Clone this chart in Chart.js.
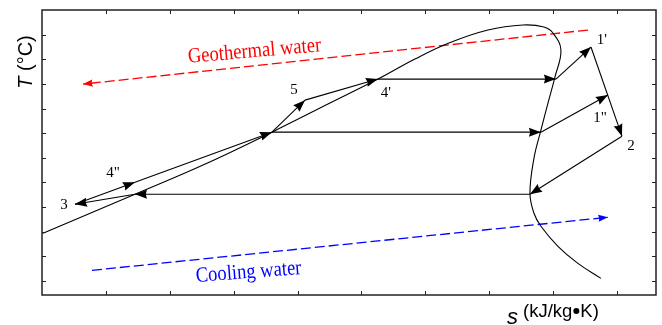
<!DOCTYPE html>
<html>
<head>
<meta charset="utf-8">
<script src="https://cdn.jsdelivr.net/npm/chart.js@4/dist/chart.umd.min.js"></script>
<style>
  html, body { margin: 0; padding: 0; background: #fff; }
  #wrap { width: 662px; height: 325px; }
</style>
</head>
<body>
<div id="wrap"><canvas id="chart" width="662" height="325"></canvas></div>
<script>
// saturation dome, s and T in plot units (no scale on the axes)
const domeS = [0.016, 1.455, 2.582, 3.599, 4.507, 5.258, 5.837, 6.369, 6.980, 7.527, 7.856, 7.997,
               8.122, 8.028, 7.919, 7.809, 7.700, 7.637, 7.700, 7.809, 8.075, 8.388, 8.748];
const domeT = [1.935, 3.520, 4.780, 6.041, 7.220, 8.195, 9.008, 9.659, 10.187, 10.390, 10.309, 10.065,
               9.374, 8.276, 7.220, 6.122, 4.984, 3.561, 2.748, 2.220, 1.407, 0.715, 0.106];

// cycle nodes (labelled states + corner points on the dome)
const nodeNames = ['3', '4"', 'j', '5', "4'", 'a', "1'", 'b', '1"', '2', 'c', 'd'];
const nodeS = [0.516, 1.455, 3.599, 4.116, 5.258, 8.044, 8.592, 7.809, 8.858, 9.077, 7.637, 1.455];
const nodeT = [3.114, 4.008, 6.041, 7.341, 8.195, 8.195, 9.496, 6.041, 7.545, 5.878, 3.520, 3.520];

// process arrows, [from, to] node indices
const cyclePath = [[0, 1], [1, 2], [2, 3], [3, 4], [4, 5], [5, 6], [6, 9],
                   [2, 7], [7, 8], [9, 10], [10, 11], [11, 0]];

// heat source / sink streams
const geoS = [8.545, 0.642];
const geoT = [10.187, 7.992];
const coolS = [0.782, 8.858];
const coolT = [0.431, 2.585];

const xTicks = [1, 2, 3, 4, 5, 6, 7, 8, 9];
const yTicks = [0, 1, 2, 3, 4, 5, 6, 7, 8, 9, 10];

// label placement around the state points (pixels)
const labelOffset = {
    '3': [-11, 1], '4"': [-22, -9], '5': [-11, -10], "4'": [8, 14],
    "1'": [11, -7], '1"': [-8, 23], '2': [9, 10]
};

function toPoints(xs, ys) {
    return xs.map((x, i) => ({ x: x, y: ys[i] }));
}

const datasets = [];
datasets.push({
    data: toPoints(domeS, domeT),
    borderColor: '#000', borderWidth: 1.1, tension: 0.4
});
cyclePath.forEach(p => {
    datasets.push({
        data: [{ x: nodeS[p[0]], y: nodeT[p[0]] }, { x: nodeS[p[1]], y: nodeT[p[1]] }],
        borderColor: '#000', borderWidth: 1.1, arrow: '#000'
    });
});
datasets.push({
    data: toPoints(geoS, geoT),
    borderColor: '#ff0000', borderWidth: 1.3, borderDash: [10, 4], arrow: '#ff0000', arrowSize: 0.8
});
datasets.push({
    data: toPoints(coolS, coolT),
    borderColor: '#0000ff', borderWidth: 1.3, borderDash: [10, 4], arrow: '#0000ff', arrowSize: 0.8
});

// Arrowheads at the end of every process line
const arrowPlugin = {
    id: 'arrows',
    afterDatasetsDraw(chart) {
        const ctx = chart.ctx;
        chart.data.datasets.forEach((ds, i) => {
            if (!ds.arrow) return;
            const pts = chart.getDatasetMeta(i).data;
            const a = pts[pts.length - 2], b = pts[pts.length - 1];
            const ang = Math.atan2(b.y - a.y, b.x - a.x);
            const k = ds.arrowSize || 1;
            const len = 12 * k, half = 4.5 * k;
            ctx.save();
            ctx.translate(b.x, b.y);
            ctx.rotate(ang);
            ctx.fillStyle = ds.arrow;
            ctx.beginPath();
            ctx.moveTo(0, 0);
            ctx.lineTo(-len, -half);
            ctx.lineTo(-len * 0.9, 0);
            ctx.lineTo(-len, half);
            ctx.closePath();
            ctx.fill();
            ctx.restore();
        });
    }
};

// Frame, inward ticks and all the text
const framePlugin = {
    id: 'frame',
    afterDraw(chart) {
        const ctx = chart.ctx;
        const area = chart.chartArea;
        const xs = chart.scales.x, ys = chart.scales.y;
        ctx.save();
        ctx.strokeStyle = '#222';
        ctx.lineWidth = 1.5;
        ctx.strokeRect(area.left, area.top, area.right - area.left, area.bottom - area.top);
        ctx.lineWidth = 1;
        ctx.beginPath();
        xTicks.forEach(v => {
            const px = Math.round(xs.getPixelForValue(v)) + 0.5;
            ctx.moveTo(px, area.top); ctx.lineTo(px, area.top + 4);
            ctx.moveTo(px, area.bottom); ctx.lineTo(px, area.bottom - 4);
        });
        yTicks.forEach(v => {
            const py = Math.round(ys.getPixelForValue(v)) + 0.5;
            ctx.moveTo(area.left, py); ctx.lineTo(area.left + 4, py);
            ctx.moveTo(area.right, py); ctx.lineTo(area.right - 4, py);
        });
        ctx.stroke();

        // state labels
        ctx.fillStyle = '#000';
        ctx.font = '15px "Liberation Serif", "Times New Roman", serif';
        ctx.textAlign = 'center';
        ctx.textBaseline = 'middle';
        nodeNames.forEach((n, i) => {
            const off = labelOffset[n];
            if (!off) return;
            ctx.fillText(n, xs.getPixelForValue(nodeS[i]) + off[0], ys.getPixelForValue(nodeT[i]) + off[1]);
        });

        // stream labels
        function slanted(text, x, y, deg, color) {
            ctx.save();
            ctx.translate(x, y);
            ctx.rotate(deg * Math.PI / 180);
            ctx.scale(1, 1.15);
            ctx.fillStyle = color;
            ctx.font = '18.6px "Liberation Serif", "Times New Roman", serif';
            ctx.textAlign = 'center';
            ctx.textBaseline = 'alphabetic';
            ctx.fillText(text, 0, 0);
            ctx.restore();
        }
        slanted('Geothermal water', 255, 57, -5, '#ff0000');
        slanted('Cooling water', 249, 278, -4.3, '#0000ff');

        // axis titles
        ctx.save();
        ctx.translate(32, 62);
        ctx.rotate(-Math.PI / 2);
        ctx.fillStyle = '#000';
        ctx.textBaseline = 'alphabetic';
        ctx.textAlign = 'left';
        const tItal = 'italic 20px "Liberation Sans", Arial, sans-serif';
        const tReg = '20px "Liberation Sans", Arial, sans-serif';
        ctx.font = tItal;
        const wT = ctx.measureText('T').width;
        ctx.font = tReg;
        const wU = ctx.measureText(' (°C)').width;
        const x0 = -(wT + wU) / 2;
        ctx.font = tItal;
        ctx.fillText('T', x0, 0);
        ctx.font = tReg;
        ctx.fillText(' (°C)', x0 + wT, 0);
        ctx.restore();

        ctx.fillStyle = '#000';
        ctx.textAlign = 'left';
        ctx.textBaseline = 'alphabetic';
        ctx.font = 'italic 22px "Liberation Sans", Arial, sans-serif';
        ctx.fillText('s', 507, 324);
        const uFont = '18.5px "Liberation Sans", Arial, sans-serif';
        ctx.font = uFont;
        let ux = 523;
        ctx.fillText('(kJ/kg', ux, 317);
        ux += ctx.measureText('(kJ/kg').width + 1;
        ctx.beginPath();
        ctx.arc(ux + 3, 311, 3, 0, Math.PI * 2);
        ctx.fill();
        ux += 7;
        ctx.fillText('K)', ux, 317);
        ctx.restore();
    }
};

new Chart(document.getElementById('chart'), {
    type: 'scatter',
    data: { datasets: datasets },
    options: {
        responsive: false,
        animation: false,
        showLine: true,
        layout: { padding: { left: 42, right: 6, top: 10, bottom: 30 } },
        elements: { point: { radius: 0, hoverRadius: 0 } },
        plugins: { legend: { display: false }, tooltip: { enabled: false } },
        scales: {
            x: { type: 'linear', min: 0, max: 9.61, display: false },
            y: { type: 'linear', min: -0.57, max: 11, display: false }
        }
    },
    plugins: [arrowPlugin, framePlugin]
});
</script>
</body>
</html>
